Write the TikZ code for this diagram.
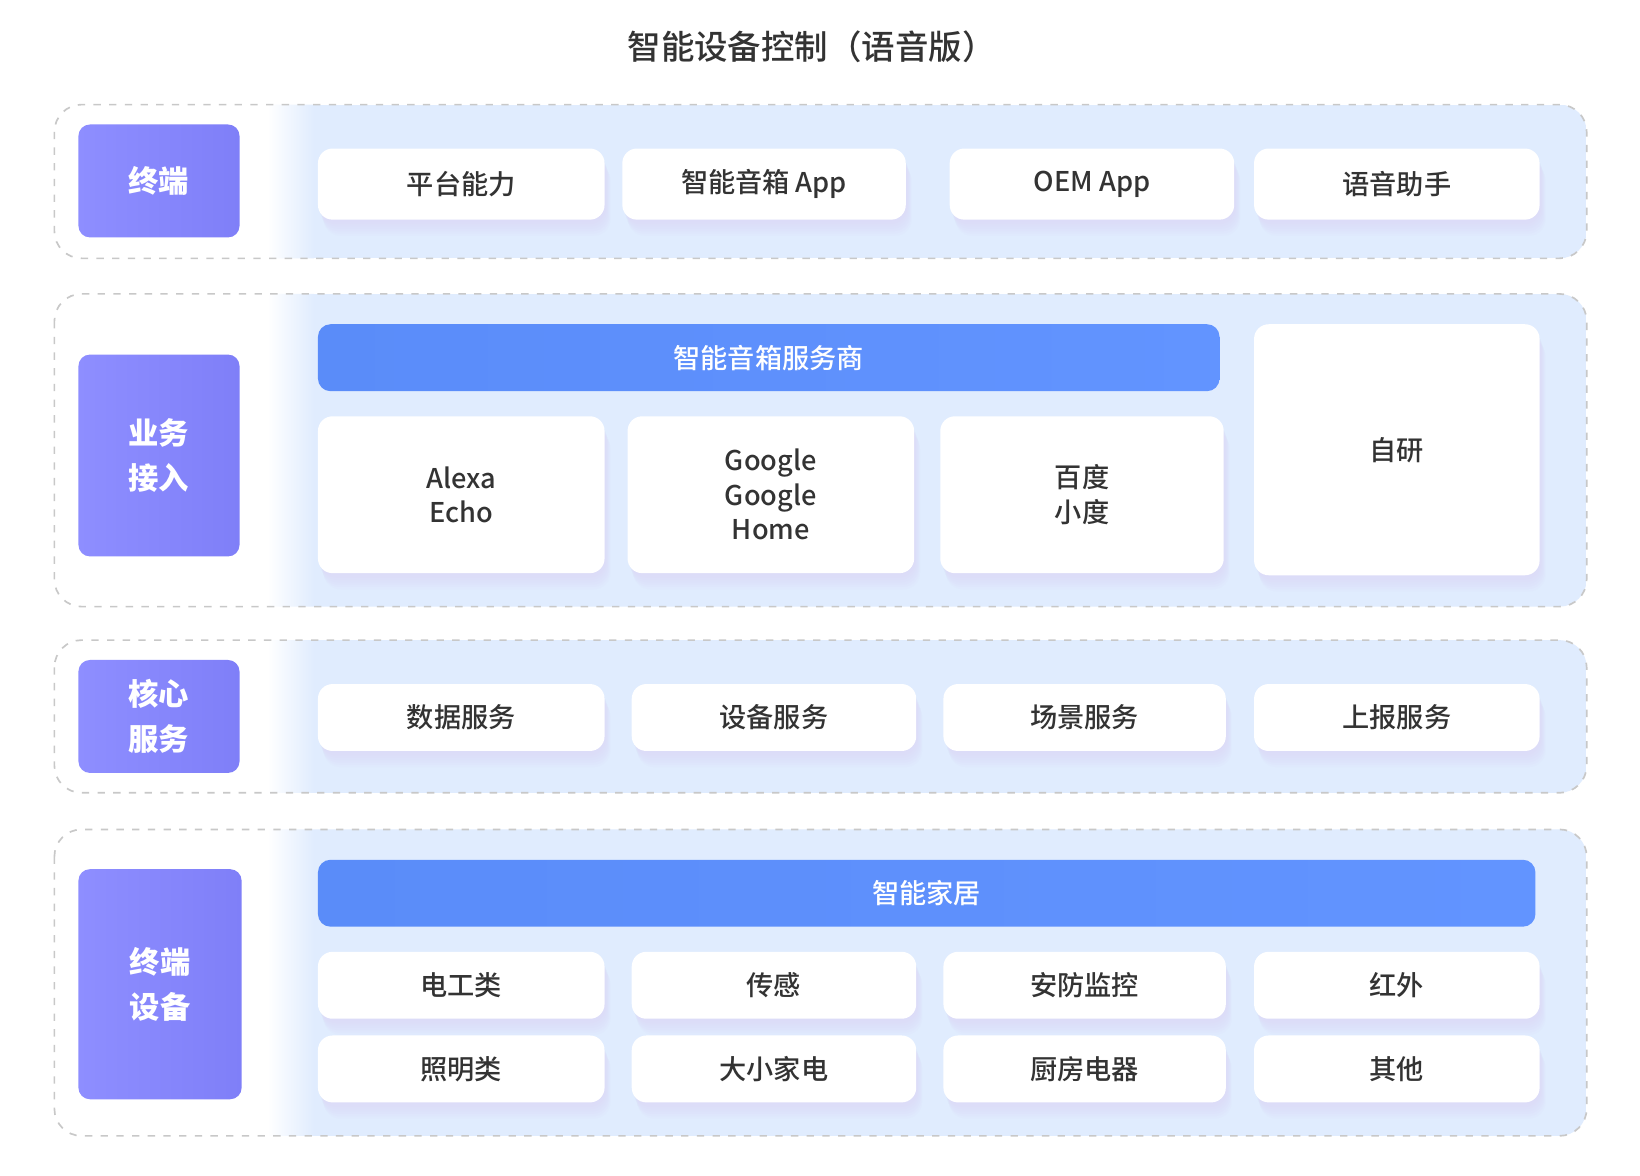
\documentclass[tikz,border=0pt]{standalone}
\usepackage{fontspec}
\setmainfont{Noto Sans CJK SC}
\newfontfamily\medfont{Noto Sans CJK SC Medium}
\definecolor{txt}{HTML}{333333}
\definecolor{purpL}{HTML}{8E8EFF}
\definecolor{purpR}{HTML}{7F7FF8}
\definecolor{barL}{HTML}{5A8CF9}
\definecolor{barR}{HTML}{6294FF}
\definecolor{bgblue}{HTML}{E0ECFE}
\definecolor{dashc}{HTML}{C8C8C8}
\definecolor{shad}{HTML}{DCD8F8}
\tikzset{
  outerbox/.style={draw=dashc, line width=1.6pt, dash pattern=on 7pt off 8pt, rounded corners=26pt},
  labelbox/.style={rounded corners=11pt, left color=purpL, right color=purpR, text=white,
     font=\fontsize{29}{43}\selectfont\bfseries, align=center, inner sep=0pt},
  barbox/.style={rounded corners=12pt, left color=barL, right color=barR, text=white,
     font=\fontsize{26}{32}\medfont, align=center, inner sep=0pt},
  cellbox/.style={rounded corners=14pt, fill=white, text=txt,
     font=\fontsize{26}{33}\medfont, align=center, inner sep=0pt},
}
% #1 name, #2 cx, #3 cy, #4 w, #5 h, #6 text
\newcommand\mycell[6]{%
  \foreach \k in {1,...,7}{
    \fill[shad, opacity=0.15, rounded corners=16pt]
      (#2-#4/2+0.8*\k, #3-#5/2+2.2*\k) rectangle (#2+#4/2+0.8*\k, #3+#5/2+2.2*\k);
  }
  \node[cellbox, minimum width=#4pt, minimum height=#5pt] (#1) at (#2,#3) {#6};
}
% #1 name, #2 top, #3 bottom
\newcommand\myrow[3]{%
  \begin{scope}
    \clip[rounded corners=26pt] (52,#2) rectangle (1517,#3);
    \fill[bgblue] (300,#2) rectangle (1517,#3);
    \shade[left color=white, right color=bgblue] (256,#2) rectangle (300,#3);
  \end{scope}
  \draw[outerbox] (52,#2) rectangle (1517,#3);
  \coordinate (#1) at (52,#2);
}
\begin{document}
\begin{tikzpicture}[x=1pt,y=-1pt]
\useasboundingbox[fill=white] (0,0) rectangle (1568,1124);

\node[text=txt, font=\fontsize{32}{38}\medfont] (title) at (776,45) {智能设备控制（语音版）};

% Row 1
\myrow{row1}{100}{247}
\node[labelbox, minimum width=154pt, minimum height=108pt] (l1) at (152,173) {终端};
\mycell{c11}{441}{176}{274}{68}{平台能力}
\mycell{c12}{730.5}{176}{271}{68}{智能音箱 App}
\mycell{c13}{1044}{176}{272}{68}{OEM App}
\mycell{c14}{1335.5}{176}{273}{68}{语音助手}

% Row 2
\myrow{row2}{281}{580}
\node[labelbox, minimum width=154pt, minimum height=193pt] (l2) at (152,435.5) {业务\\接入};
\node[barbox, minimum width=862pt, minimum height=64pt] (bar2) at (735,342) {智能音箱服务商};
\mycell{c21}{441}{473}{274}{150}{Alexa\\Echo}
\mycell{c22}{737}{473}{274}{150}{Google\\Google\\Home}
\mycell{c23}{1034.5}{473}{271}{150}{百度\\小度}
\mycell{c24}{1335.5}{430}{273}{240}{自研}

% Row 3
\myrow{row3}{612}{758}
\node[labelbox, minimum width=154pt, minimum height=108pt] (l3) at (152,685) {核心\\服务};
\mycell{c31}{441}{686}{274}{64}{数据服务}
\mycell{c32}{740}{686}{272}{64}{设备服务}
\mycell{c33}{1037}{686}{270}{64}{场景服务}
\mycell{c34}{1335.5}{686}{273}{64}{上报服务}

% Row 4
\myrow{row4}{793}{1086}
\node[labelbox, minimum width=156pt, minimum height=220pt] (l4) at (153,941) {终端\\设备};
\node[barbox, minimum width=1164pt, minimum height=64pt] (bar4) at (886,854) {智能家居};
\mycell{c41}{441}{942}{274}{64}{电工类}
\mycell{c42}{740}{942}{272}{64}{传感}
\mycell{c43}{1037}{942}{270}{64}{安防监控}
\mycell{c44}{1335.5}{942}{273}{64}{红外}
\mycell{c45}{441}{1022}{274}{64}{照明类}
\mycell{c46}{740}{1022}{272}{64}{大小家电}
\mycell{c47}{1037}{1022}{270}{64}{厨房电器}
\mycell{c48}{1335.5}{1022}{273}{64}{其他}
\end{tikzpicture}
\end{document}
